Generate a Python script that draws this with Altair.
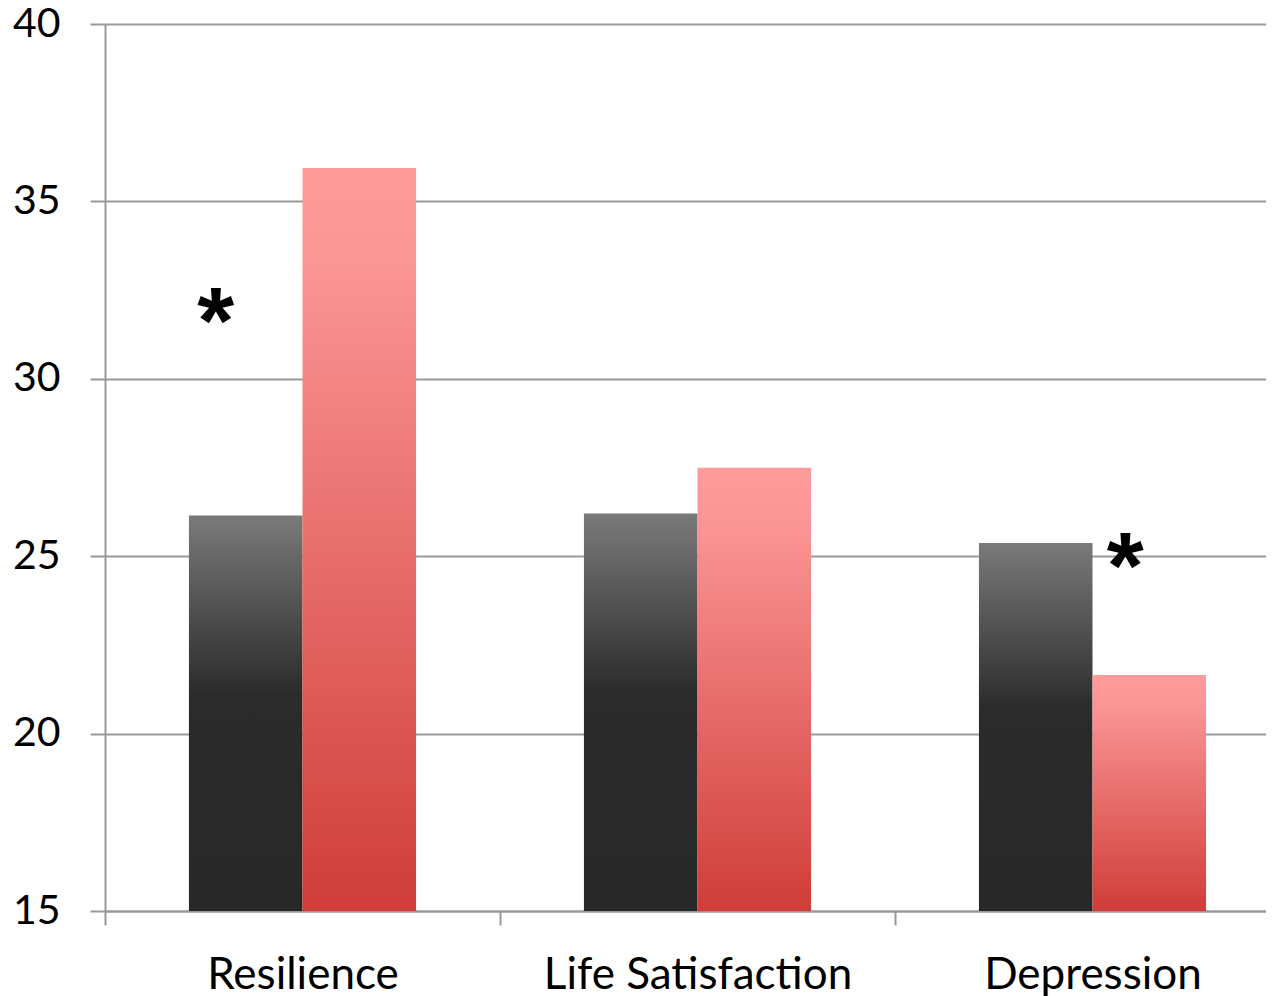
import altair as alt
import pandas as pd

categories = ["Resilience", "Life Satisfaction", "Depression"]
groups = ["Control", "Intervention"]
control_values = [26.15, 26.2, 25.37]
intervention_values = [35.94, 27.49, 21.65]
star_categories = ["Resilience", "Depression"]
star_groups = ["Control", "Intervention"]
star_values = [32.0, 25.1]
y_ticks = [15, 20, 25, 30, 35, 40]

ctrl_df = pd.DataFrame({"category": categories, "group": groups[0], "value": control_values})
int_df = pd.DataFrame({"category": categories, "group": groups[1], "value": intervention_values})
star_df = pd.DataFrame({"category": star_categories, "group": star_groups, "value": star_values})

W = 1161
H = 887
STEP = 395

x_enc = alt.X(
    "category:N",
    sort=categories,
    scale=alt.Scale(domain=categories, range=[0, 3 * STEP], paddingInner=0.425, paddingOuter=0.2125),
    axis=alt.Axis(
        title=None, labelAngle=0, tickSize=14, tickOffset=-STEP / 2, labelOffset=STEP / 2,
        labelFontSize=44, labelFont="Lato", labelColor="black", labelBaseline="alphabetic",
        labelPadding=63, labelLimit=0, tickColor="#999999", tickWidth=2, domainColor="#999999",
        domainWidth=2, grid=False,
    ),
)
xo_enc = alt.XOffset("group:N", sort=groups, scale=alt.Scale(domain=groups, paddingInner=0, paddingOuter=0))
y_enc = alt.Y(
    "value:Q",
    scale=alt.Scale(domain=[15, 40], nice=False, zero=False),
    axis=alt.Axis(
        values=y_ticks, title=None, grid=True, gridColor="#999999", gridWidth=2,
        tickSize=15, tickColor="#999999", tickWidth=2, domainColor="#999999", domainWidth=2,
        labelPadding=30, labelFontSize=41, labelFont="Lato", labelColor="black",
    ),
)

gray_grad = alt.Gradient(
    gradient="linear",
    stops=[
        alt.GradientStop(color="#7a7a7a", offset=0),
        alt.GradientStop(color="#2b2b2b", offset=0.45),
        alt.GradientStop(color="#282828", offset=1),
    ],
    x1=0, x2=0, y1=0, y2=1,
)
red_grad = alt.Gradient(
    gradient="linear",
    stops=[
        alt.GradientStop(color="#fe9b9b", offset=0),
        alt.GradientStop(color="#fb9696", offset=0.12),
        alt.GradientStop(color="#cf3d39", offset=1),
    ],
    x1=0, x2=0, y1=0, y2=1,
)

gray_bars = alt.Chart(ctrl_df).mark_bar(fill=gray_grad).encode(
    x=x_enc, xOffset=xo_enc, y=y_enc, y2=alt.datum(15)
)
red_bars = alt.Chart(int_df).mark_bar(fill=red_grad).encode(
    x=x_enc, xOffset=xo_enc, y=y_enc, y2=alt.datum(15)
)
star1 = alt.Chart(star_df.iloc[[0]]).mark_text(
    text="*", fontSize=95, fontWeight="bold", font="Liberation Sans", baseline="middle", dx=-30, dy=16, color="black"
).encode(x=x_enc, xOffset=xo_enc, y=y_enc)
star2 = alt.Chart(star_df.iloc[[1]]).mark_text(
    text="*", fontSize=95, fontWeight="bold", font="Liberation Sans", baseline="middle", dx=-24, dy=16, color="black"
).encode(x=x_enc, xOffset=xo_enc, y=y_enc)

chart = alt.layer(gray_bars, red_bars, star1, star2).properties(
    width=W, height=H,
    autosize=alt.AutoSizeParams(type="none"),
    padding={"left": 97, "top": 16, "right": 0, "bottom": 90},
).configure_view(stroke=None)

chart.save("out.html", embed_options={"renderer": "svg", "actions": False})
